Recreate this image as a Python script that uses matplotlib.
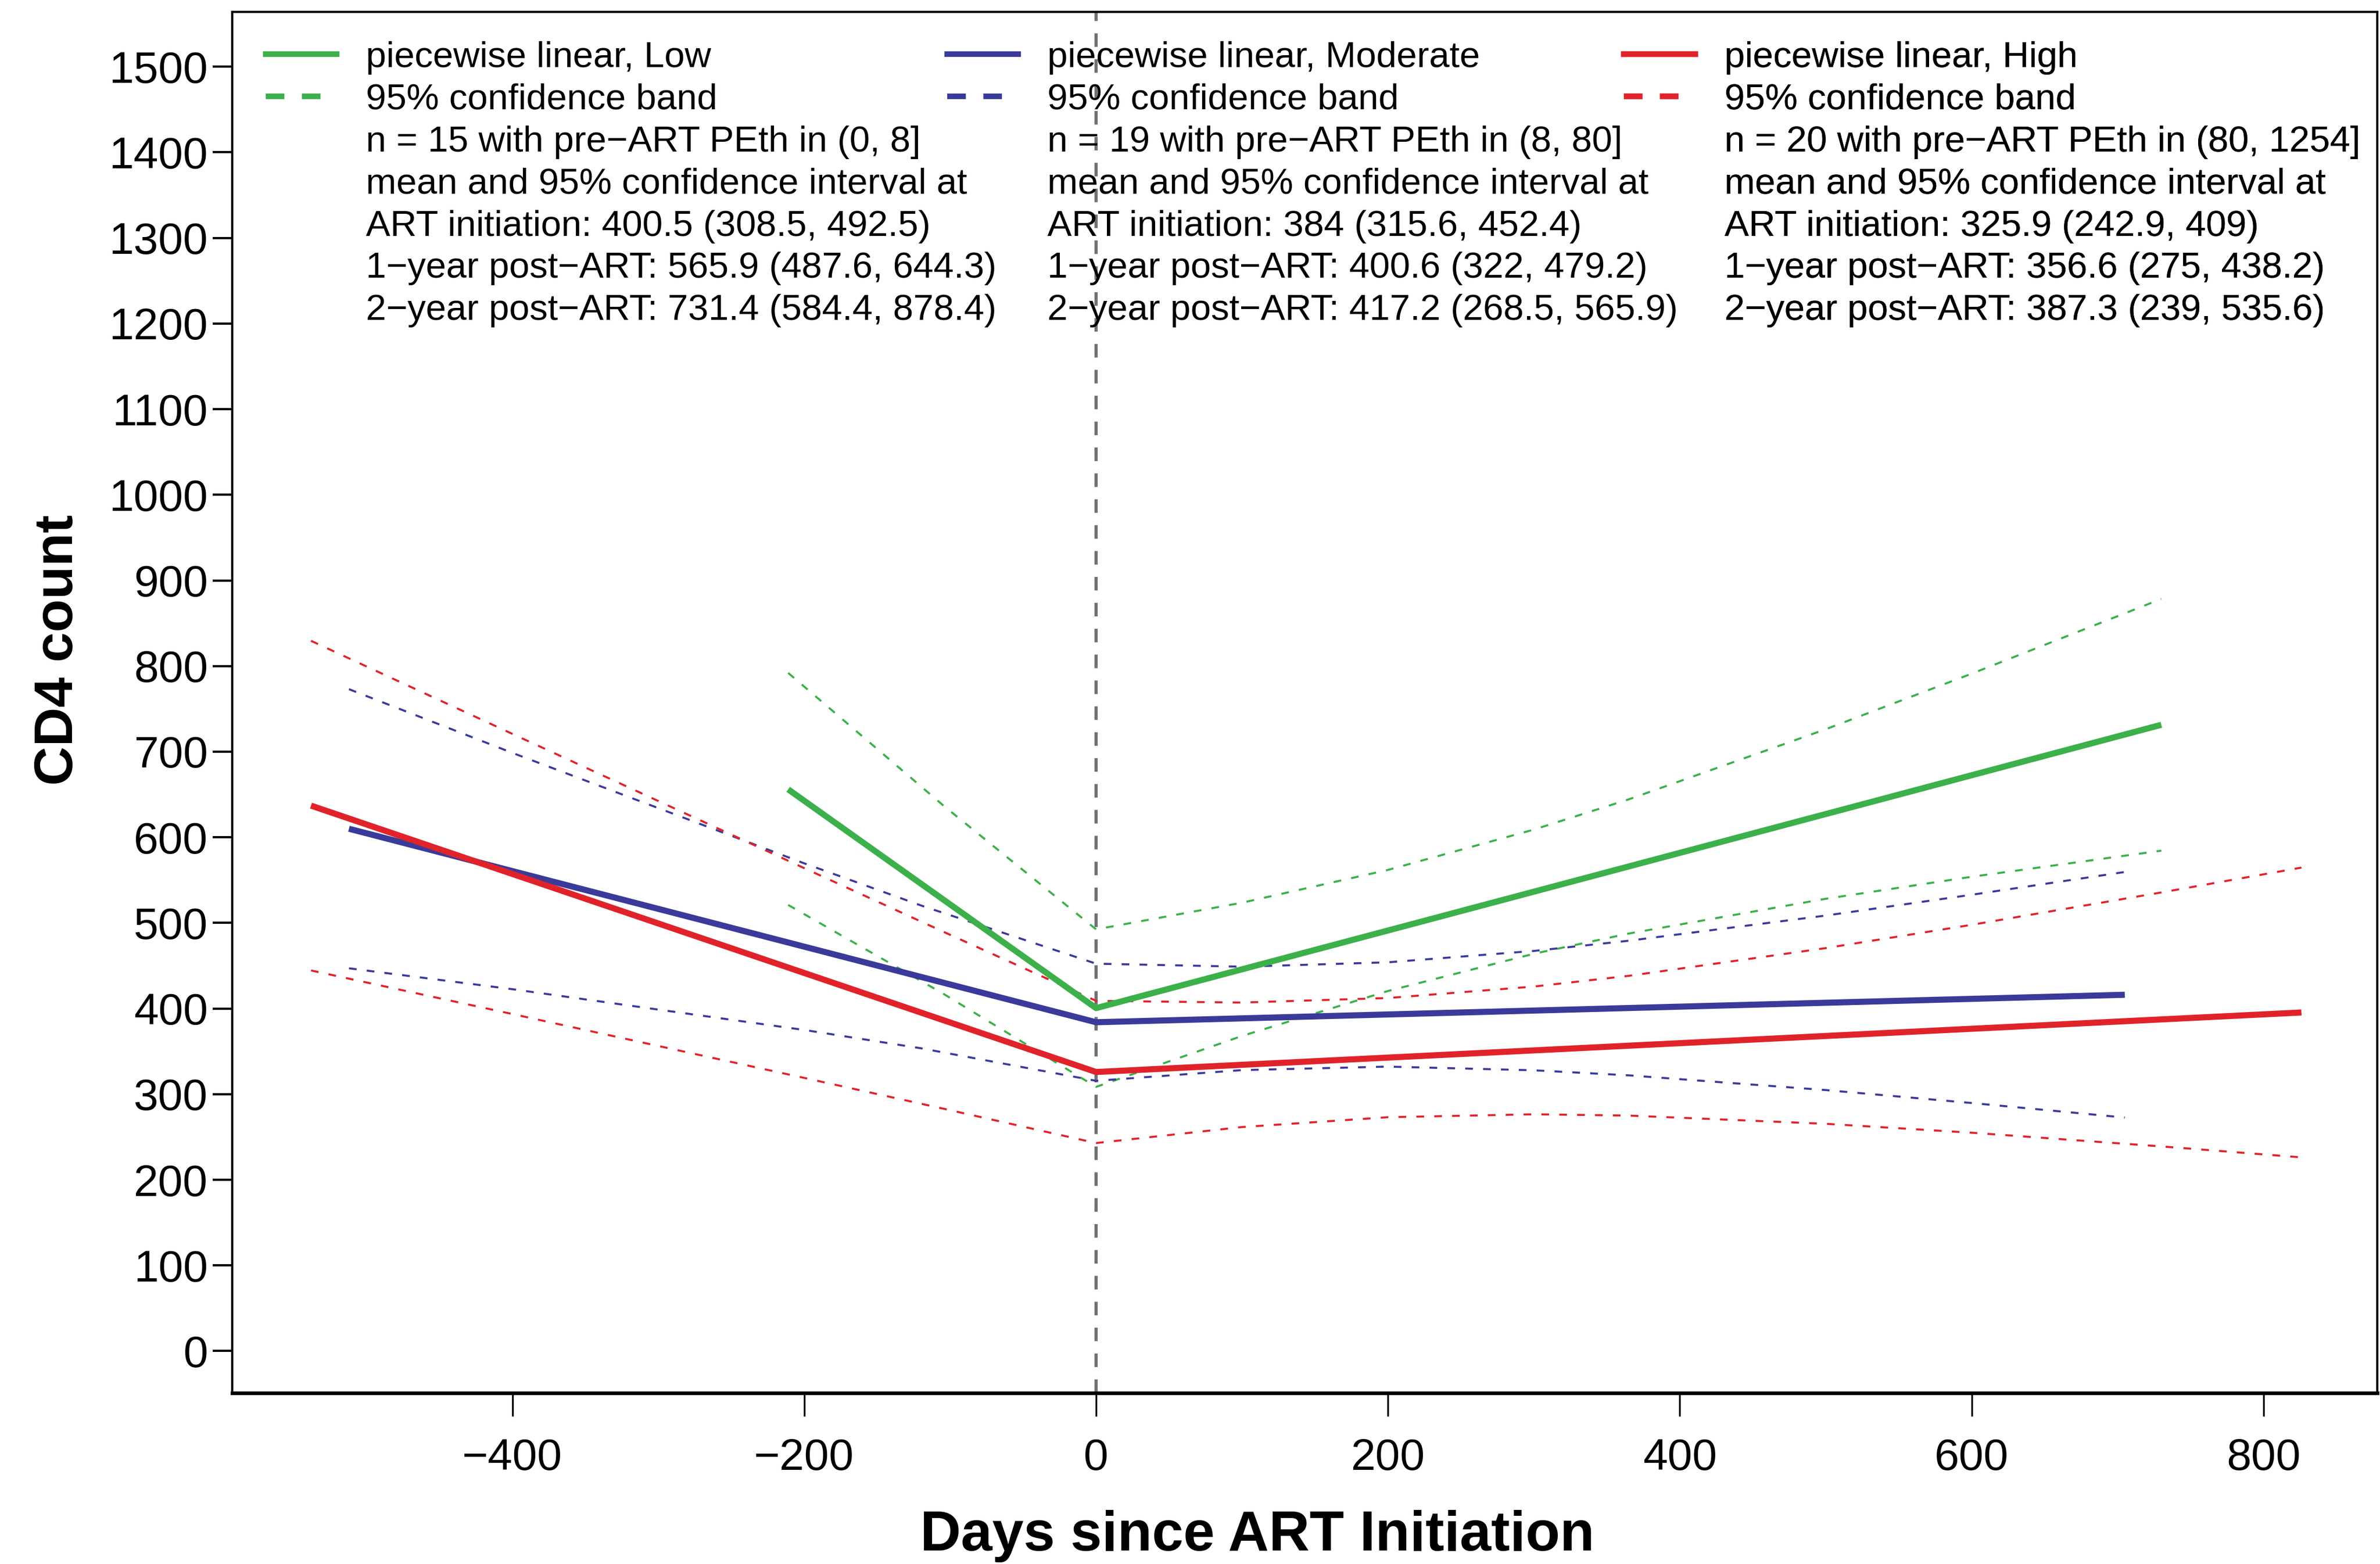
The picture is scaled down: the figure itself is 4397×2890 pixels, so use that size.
import numpy as np
import matplotlib.pyplot as plt
import matplotlib
from matplotlib.lines import Line2D

matplotlib.rcParams['font.family'] = ['Liberation Sans', 'DejaVu Sans']

# group names, colours and fitted values
groups = ['Low', 'Moderate', 'High']
colors = ['#3CB04A', '#3A3A9A', '#E0232A']

low_mean_x = [-211, 0, 730]
low_mean_y = [656, 400.5, 731.4]
low_band_x = [-211, -105, 0, 100, 200, 300, 365, 500, 600, 730]
low_upper = [792, 637.6, 492.5, 523.6, 561.9, 609.0, 644.3, 726.2, 791.1, 878.4]
low_lower = [521, 417.6, 308.5, 368.0, 420.5, 464.0, 487.6, 528.2, 553.9, 584.4]

mod_mean_x = [-512, 0, 705]
mod_mean_y = [610, 384, 416.1]
mod_band_x = [-512, -400, -200, -120, 0, 100, 200, 300, 365, 500, 600, 705]
mod_upper = [773, 698.6, 569.6, 520.4, 452.4, 448.9, 454.0, 467.3, 479.2, 508.6, 532.9, 559.5]
mod_lower = [447, 422.6, 375.0, 353.6, 315.6, 328.1, 332.2, 327.9, 322.0, 304.8, 289.7, 272.7]

high_mean_x = [-538, 0, 826]
high_mean_y = [637, 325.9, 395.4]
high_band_x = [-538, -400, -200, -100, 0, 100, 200, 300, 365, 500, 600, 730, 826]
high_upper = [829.5, 720.8, 564.0, 486.1, 409.0, 407.0, 412.3, 425.7, 438.2, 470.6, 497.8, 535.6, 564.6]
high_lower = [444.5, 393.6, 319.0, 281.3, 242.9, 261.6, 273.1, 276.5, 275.0, 265.4, 255.0, 239.0, 226.2]

low_text = ['n = 15 with pre\u2212ART PEth in (0, 8]',
            'mean and 95% confidence interval at',
            'ART initiation: 400.5 (308.5, 492.5)',
            '1\u2212year post\u2212ART: 565.9 (487.6, 644.3)',
            '2\u2212year post\u2212ART: 731.4 (584.4, 878.4)']
mod_text = ['n = 19 with pre\u2212ART PEth in (8, 80]',
            'mean and 95% confidence interval at',
            'ART initiation: 384 (315.6, 452.4)',
            '1\u2212year post\u2212ART: 400.6 (322, 479.2)',
            '2\u2212year post\u2212ART: 417.2 (268.5, 565.9)']
high_text = ['n = 20 with pre\u2212ART PEth in (80, 1254]',
             'mean and 95% confidence interval at',
             'ART initiation: 325.9 (242.9, 409)',
             '1\u2212year post\u2212ART: 356.6 (275, 438.2)',
             '2\u2212year post\u2212ART: 387.3 (239, 535.6)']

xticks = [-400, -200, 0, 200, 400, 600, 800]
yticks = list(range(0, 1600, 100))

means = [(low_mean_x, low_mean_y), (mod_mean_x, mod_mean_y), (high_mean_x, high_mean_y)]
bands = [(low_band_x, low_upper, low_lower), (mod_band_x, mod_upper, mod_lower),
         (high_band_x, high_upper, high_lower)]
texts = [low_text, mod_text, high_text]

fig = plt.figure(figsize=(4397/300, 2890/300), dpi=300)
ax = fig.add_axes([0.09757, 0.10934, 0.90129, 0.88304])

ax.axvline(0, color='#707070', lw=1.4, ls=(0, (4.3, 3.9)), zorder=1)

for c, (bx, bu, bl) in zip(colors, bands):
    ax.plot(bx, bu, color=c, lw=0.9, ls=(0, (3.8, 5)), zorder=2)
    ax.plot(bx, bl, color=c, lw=0.9, ls=(0, (3.8, 5)), zorder=2)
for c, (mx, my) in zip(colors, means):
    ax.plot(mx, my, color=c, lw=2.7, solid_capstyle='butt', zorder=3)

ax.set_xlim(-592, 878)
ax.set_ylim(-49, 1564)
ax.set_xticks(xticks)
ax.set_yticks(yticks)
ax.tick_params(axis='x', length=10.3, width=0.8, pad=9.6, labelsize=19.7)
ax.tick_params(axis='y', length=8.7, width=1.0, pad=2, labelsize=19.7)
for s in ['left', 'top', 'right']:
    ax.spines[s].set_linewidth(1.0)
ax.spines['bottom'].set_linewidth(1.6)

ax.set_xlabel('Days since ART Initiation', fontsize=25, fontweight='bold')
ax.xaxis.set_label_coords(0.478, -0.0846)
ax.set_ylabel('CD4 count', fontsize=24, fontweight='bold')
ax.yaxis.set_label_coords(-0.0691, 0.538)

# one legend block per group, stats lines as entries without a key
leg_x = [0.0156, 0.3333, 0.6488]
for i in range(3):
    hs = [Line2D([], [], color=colors[i], lw=2.5),
          Line2D([], [], color=colors[i], lw=2.5, ls=(0, (3.3, 3.1)))]
    hs += [Line2D([], [], color='none') for _ in texts[i]]
    labs = ['piecewise linear, ' + groups[i], '95% confidence band'] + texts[i]
    leg = ax.legend(hs, labs, loc='upper left', bbox_to_anchor=(leg_x[i], 0.9788),
                    frameon=False, fontsize=16.2, handlelength=1.95, handletextpad=0.8,
                    labelspacing=0.235, borderpad=0, borderaxespad=0)
    ax.add_artist(leg)

plt.savefig('out.png', dpi=300)
